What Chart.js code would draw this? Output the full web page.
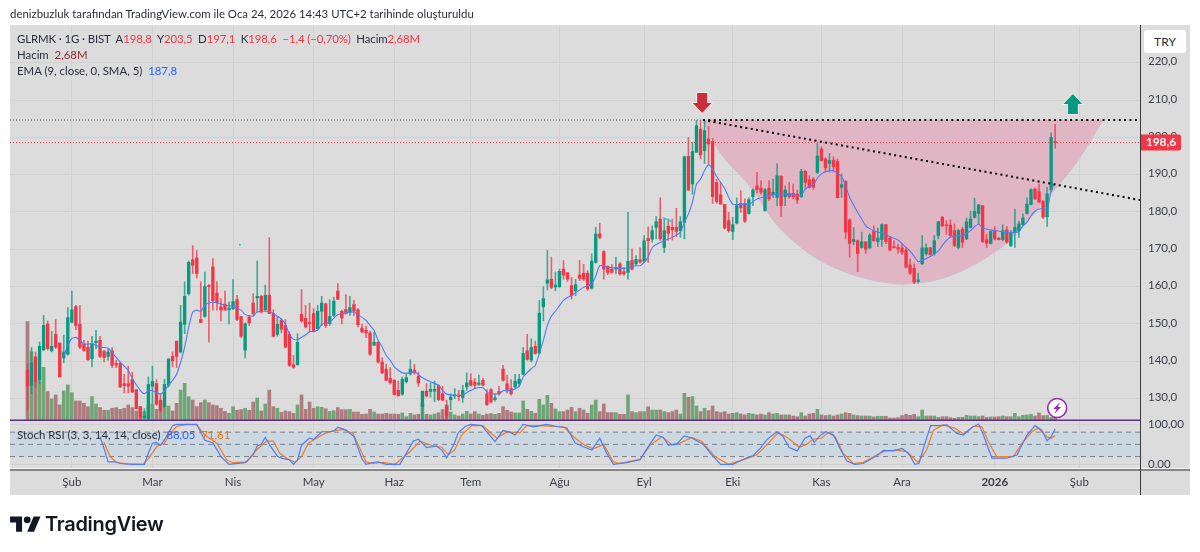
<!DOCTYPE html>
<html lang="tr">
<head>
<meta charset="utf-8">
<title>GLRMK</title>
<script src="https://cdn.jsdelivr.net/npm/chart.js@4/dist/chart.umd.js"></script>
<style>
    html, body { margin: 0; padding: 0; background: #fff; }
    body { width: 1200px; height: 552px; overflow: hidden; position: relative; font-family: Lato, sans-serif; color: #2a2e39; }
    #panel { position: absolute; left: 10px; top: 25px; width: 1180px; height: 470px; background: #dcdcdc; }
    canvas { position: absolute; left: 0; top: 0; }
    .txt { position: absolute; white-space: pre; font-size: 11.4px; line-height: 14px; }
    .red { color: #f23645; }
    .dark { color: #8e2b33; }
    .blue { color: #2962ff; }
    .orange { color: #ff6d00; }
    #cur { position: absolute; left: 1144px; top: 30px; width: 42px; height: 23px; line-height: 23px; background: #fff; border-radius: 3px; text-align: center; font-size: 12px; }
    #logo { position: absolute; left: 10px; top: 513px; }
    #logotxt { position: absolute; left: 45px; top: 511px; font: 600 20px/26px Inter, sans-serif; color: #131722; letter-spacing: -0.3px; }
</style>
</head>
<body>
<div id="panel"></div>
<canvas id="chart" width="1200" height="552"></canvas>
<div class="txt" style="left:10px;top:7px">denizbuzluk tarafından TradingView.com ile Oca 24, 2026 14:43 UTC+2 tarihinde oluşturuldu</div>
<div class="txt" style="left:17px;top:32px;letter-spacing:-0.1px">GLRMK · 1G · BIST  A<span class="red">198,8</span>  Y<span class="red">203,5</span>  D<span class="red">197,1</span>  K<span class="red">198,6</span>  <span class="red">−1,4 (−0,70%)</span>  Hacim<span class="red">2,68M</span></div>
<div class="txt" style="left:17px;top:48px">Hacim  <span class="dark">2,68M</span></div>
<div class="txt" style="left:17px;top:64px">EMA (9, close, 0, SMA, 5)  <span class="blue">187,8</span></div>
<div class="txt" style="left:17px;top:428px">Stoch RSI (3, 3, 14, 14, close)  <span class="blue">88,05</span>  <span class="orange">71,61</span></div>
<div id="cur">TRY</div>
<svg id="logo" width="31" height="24" viewBox="0 0 36 28" fill="#131722"><path d="M14 22H7V11H0V4h14v18zM28 22h-8l7.5-18h8L28 22z"/><circle cx="20" cy="8" r="4"/></svg>
<div id="logotxt">TradingView</div>

<script>
// candles, one value per trading day
const opens = [137.6,133.6,141.2,134.9,143.1,150,142.8,147.2,144.9,140.9,141.9,150.5,154.7,149.9,144.6,143.8,140.7,145,145.6,142.7,141.3,142.8,139.4,139.4,134,134,135.1,132.4,127.8,124.9,
    124.6,133.3,134,129.6,127.9,133.6,141.3,145.4,142.5,149.9,158.1,167.2,167.7,151.2,152,160.3,165.3,158.3,154.6,155.3,153.8,154.1,156.5,152,143,151.9,155.6,157,157.4,153.8,
    157.7,152.8,147.2,151,149.6,147.2,139.1,139.1,152.6,151.5,150.4,152.8,148.7,153.4,155.4,150.1,152.3,158.8,153.4,153.9,153.2,155.2,153.8,148.9,148.3,147.6,144.3,145.1,139.8,137.9,
    135.4,134.9,132.2,131.2,134.5,136.6,137.6,136,127.9,132,131.9,132,133.5,131.3,128,129.7,130.7,131,130.3,133.1,134.9,134.4,133.8,134.9,131.3,132.4,129.7,131.9,137.9,134,
    132.7,133.1,134,136.5,142.8,140.3,144,142.2,154.6,160.9,162,159.9,160,164.7,163.7,160.3,158.9,163.1,163.6,163.6,159.6,166.5,174.1,169.4,165.4,164.7,164.7,166.1,164,163.8,
    167,166.1,167.2,166.8,172.9,172.7,175.9,178.1,170.5,176.2,175.9,175.9,175,177.2,194.9,187.5,196,202.2,196.4,199.6,198.9,187.9,184.6,182,177.7,174.8,177,182.3,182.3,179.6,
    184.1,187,186.4,180.4,186.4,184.6,183.9,189.6,184.1,185,185,184.8,184.1,190.9,188.6,188.8,190.6,196.9,194.2,193,193.9,193.6,186.6,188.2,177.9,172.1,172.3,170.5,172,170.4,
    174.8,172.1,172.6,176.6,173,170.7,170.5,170.4,169.8,165.8,164.9,161.4,166.1,168.8,170.4,168.8,173.7,178.6,176.5,176.5,175,170.5,175.4,172.8,175.9,178.6,179.6,181.7,172.6,171.6,
    174.8,173,172.6,175.2,171,174.6,175,176.6,179.6,182,186.2,185.5,182.9,178.7,185.9,198.8];
const highs = [139.4,143.7,142.5,145.2,152.3,150.8,148,151.2,144.9,147,154.4,158.8,155,155,145.6,145.4,146.7,148.3,146.7,142.9,143.4,143.7,140.3,139.8,136.5,138.7,137.1,132.4,127.9,127.3,
    135.8,138.7,135.1,131.3,135.2,140.7,142.5,145.4,155,161.3,166.9,171,169.7,161.3,163.9,160.6,167.5,161.3,156.8,158.8,155.9,161.9,157.7,152,150.3,152.3,158.1,166.9,157.7,160.4,
    173.1,153.8,152,151.4,151.2,147.9,141.6,147.4,159.2,155,155.6,154.1,155,157.4,155.6,156.5,157.2,160.8,153.7,157.9,157.4,156.3,154.1,150,149.4,148.1,147.9,145.2,141,139.2,
    138.3,135.1,134.7,135.8,136.5,140.4,139.2,137.1,132,134,134.2,134.7,133.6,133.3,129.6,131.3,132.7,132.2,133.6,136.9,136.7,135.4,136.3,135.4,132.4,132.7,131.3,133.3,138.9,136.3,
    135.1,136.5,136.5,143.7,147.2,146,145.4,156.3,160,169.7,167.9,163.9,164.7,167,163.8,162.5,162,167,166,164.3,168.8,175.9,177,169.6,165.6,166,167.9,166.5,165.2,179.9,
    170.1,168.3,170.4,173.7,176,176.3,178.8,183.8,178.1,178.1,178.1,181,178.8,195,200,198.7,204.6,204.5,204.5,202.9,199.7,188.8,187.9,182.1,179.9,178.6,183.8,185.7,183.5,183.8,
    186.2,190.6,188.4,186.3,188.4,188.8,193,189.7,187,187.9,187.5,185.9,191.5,191.2,189.7,189.3,198.4,197.5,194.6,195.7,194.8,194.2,190.2,188.4,178.1,175.9,172.5,174.6,172.1,174.2,
    176.3,175.7,176.8,176.6,173.2,172.3,171.4,171.4,170.5,167.4,166.1,163.6,173.7,171.4,170.5,173.7,177.5,178.8,177.7,177.9,176.8,175.4,175.9,178.4,180.2,183.7,182,181.7,174.1,175,
    176.1,173.2,176.6,176.1,175,180.8,177.5,179.5,183.8,186.2,186.3,187.5,183,186.6,201.3,203.5];
const lows = [126.9,131.3,133.1,134,142.8,143,142.5,143.4,135.8,139.6,141.6,150.3,148.5,143.4,142.7,140.2,138.5,143.4,141,139.8,140.3,138.3,138.3,133,131.5,131.5,131.6,127.2,124.6,124.6,
    124.2,128.7,128.2,126.4,127.7,133.1,138.5,138.3,142.2,147.4,157.7,163.5,162.3,150.3,151.8,145.2,153.7,153.7,150.8,153.7,150,153.8,150.9,146.3,140.9,149.6,152.3,153.2,152.9,153.6,
    152.8,146.5,146.7,147.6,143.6,138.6,138.1,138.9,150.4,148.9,147.9,147.9,148.5,149.6,149,149.6,152,156.5,150,152.6,152.3,152.3,149.2,147.6,146.3,141.6,144.3,139.5,136.7,134.7,
    133.9,130.9,130.6,130.9,134.2,136.3,136.5,133.3,124.2,130.4,130.4,129.2,129.5,129.4,124.6,127,130,129.4,129,132.2,133.3,132.7,133.5,133.4,128.2,128.8,129.3,130.9,134.7,131.5,
    130.9,132.9,133.1,136.5,140.3,139.8,141.9,141.9,150.8,159.1,159.4,158.9,159.8,162,161.4,156.7,157.6,161.6,161.6,159,159.3,166.3,172.8,162,163.2,163.6,163.4,163.1,163,162,
    164.5,165.7,166.3,166.5,166.5,171.9,172.8,172.4,169.1,172.4,172.5,173.4,173.2,172.8,185.7,184.8,196,194.2,193,192.9,182.3,182.3,182.1,175.4,174.6,172.6,176.8,179.9,177.2,179.4,
    181.7,185.2,184.8,180.2,183.1,183.9,181.7,178.8,181.7,183.7,183.5,182.3,183.9,186.1,186.4,186.1,190.3,193.6,190.7,190.7,190.7,183.8,183.9,172.8,167.9,171.2,164,170.3,168.9,170.1,
    172.1,170.8,170.8,171.5,169.6,170.4,168.9,168.6,165,163.3,160.8,160.9,165.9,168.4,168.4,168.4,172.8,176,174,173.2,170.7,170.1,170.5,172.6,175.7,178.4,176.8,171.8,170.5,171.4,
    172.5,172.5,172.3,171.6,170.7,170.5,173.2,176.4,179.4,181.9,183.3,182.6,178.2,176.1,185.5,197.1];
const closes = [133.4,139.6,134.5,144,149.6,143.4,144,143.8,135.8,142.5,151.7,153.8,149.6,143.8,142.9,140.4,144.7,145.4,141.3,141,142.5,138.9,139,133.1,133.5,133.3,131.8,127.3,125.1,125.3,
    133.8,134.6,128.5,126.9,133.8,140.6,140.1,141.3,150.5,157.4,166.5,165.7,163.5,150.4,160,160,156.2,155.7,153.7,153.7,154.3,156,151.2,146.7,150.1,150.3,152.8,157.4,153.2,157.7,
    152.8,146.7,149.9,148.6,143.8,138.9,138.4,145.1,150.8,149.2,150.1,147.9,153.4,155.6,149.6,152,156.1,156.6,151.6,152.8,154.4,153.5,149.8,147.9,147.6,141.9,145.1,139.8,136.9,134.9,
    134.3,131.1,130.8,135.2,135.6,137.9,136.9,134.2,132,130.7,132.5,132.5,129.7,129.6,125.3,130.4,131,130.6,132.2,134.2,133.6,133.6,134.2,133.6,128.4,129.1,130.2,131.3,134.9,132.2,
    131.3,134.7,135.2,142.1,140.5,143.7,142.1,152.9,156.8,161.8,159.8,160.4,164.1,163.1,162,157.6,160.5,162.2,162,159.4,166.8,174.1,173.2,164.7,163.8,163.8,165.2,163.4,163.4,166.8,
    164.7,167.3,166.6,172.3,172.3,175,177.4,172.8,175,174.3,175.2,174.8,177.4,194.8,185.9,196.2,203.1,195.3,201.8,198.2,184.1,182.8,182.1,175.7,175,176.6,181.7,181.1,177.5,183.3,
    185.9,186,185.3,186,183.5,185.3,189.7,181.7,185.9,184.1,184.1,183.2,190.9,187.9,186.6,186.6,195,193.8,191.8,193.8,192.1,183.8,187.3,174.6,171.6,172.6,168.9,172,170,173.8,
    172.3,173,176.6,172.1,169.8,170.4,170.1,169.2,165.2,163.6,161.2,161.8,170.4,170.4,168.6,172.3,177.4,176.3,176.3,173.7,171,175,171.9,177.4,178.1,180.2,181.9,172.1,171.6,174.8,
    172.8,172.6,175,171.9,174.6,175.9,176.8,178.4,182.1,186,183.5,182.6,178.6,184.8,200,198.6];

// volume in millions
const volumes = [73.8,51.3,30,28.8,39.5,21.3,15.8,18.8,11.3,21.8,26.3,20.5,14.3,14.3,12.5,10,17.5,12,9.3,7.3,7.3,8.8,9.3,8,8.8,11.3,9.3,6.8,10,6.3,
    11.3,12,8,13.8,10.5,10.5,6.8,12.5,22.5,27.5,17.5,15,10,13,15,13,11.3,10.8,8.8,6.5,5,10,7.3,7.8,8.8,7.3,13.5,16.5,6.8,12,
    22.5,10,8.8,5.8,6.8,6.3,5,11.3,18.8,8,13.5,8.8,10,9.5,8.5,6.5,7,9.3,7.8,7.8,8,6,6,4.3,4.5,8,6,4.5,4.5,5,
    4.5,4.5,4.3,5.3,2.5,5,3.8,4.3,12.5,4.3,3.8,4.5,5.5,7.8,11.3,6,3.8,3,4.5,6.5,4.5,6.3,4.5,3.5,4.5,4.8,4.3,5,10,7.3,
    6,5.3,5.3,14.3,8,6.5,5,15.5,11.3,18.5,12.5,8.3,6.3,6.3,7.5,9.5,6.3,8.8,7.5,5,11.3,15,6.3,12,5.5,5.5,5.5,4.3,4.3,18.8,
    6.3,5.5,6.3,6.3,10,7.5,7.5,7.5,6.3,5.5,6.3,7.5,4.5,20,17,17.5,10.5,6.3,8.8,7,10.5,6.3,5.5,6.3,4.5,5,5.5,4.5,3.8,5,
    4.5,3.8,4.5,3.8,5.5,4.5,5,3.8,3.8,3.8,3,2.5,5.5,3,4.5,5,8,3.8,3.3,3.8,3,3.8,4.5,5.5,5,3.8,3.3,3,3,3,
    2.3,2.8,2.8,2.8,1.5,1.5,1.8,3.3,4.3,3.5,4.3,2.5,7.5,3,3,3,2,2.5,2.5,1.8,1.3,2,2,3.5,3,3,2.5,3,2,2.3,
    2.3,2.5,3,2.5,2.5,5,2.5,3.5,3.8,4.3,3,5.3,3.3,3.5,2,2.68];

// EMA at these bar numbers
const emaBars = [9,10,11,12,13,14,16,18,20,21,23,25,26,28,29,30,31,32,33,34,35,36,37,38,39,40,41,42,43,44,45,47,49,51,53,54,56,57,60,61,63,64,65,66,67,69,70,72,73,75,77,79,81,82,84,85,86,87,88,89,90,91,92,93,95,96,97,98,100,102,103,104,106,108,109,111,113,114,115,117,118,120,122,123,125,126,127,128,129,130,131,132,133,134,135,138,140,141,142,144,147,149,151,152,153,154,155,156,158,160,162,163,164,165,166,167,168,169,170,171,172,173,174,175,176,178,179,181,183,185,188,190,192,193,195,196,197,198,200,201,202,203,204,206,207,208,210,212,214,216,218,219,220,221,222,224,226,227,228,229,231,232,233,234,235,236,237,239,242,244,245,246,247,248,249,250,251,252,253,254,255];
const emaVals = [141.3,144.3,146.1,146.4,145.6,144.6,144.7,143.8,143.5,142.3,139.8,137.6,135.4,132.2,131.3,132.1,132.1,131.6,131.2,132.1,133.6,134.9,136.5,139.8,143.8,149.2,153.2,153.7,153.4,155,155.7,155.7,155,154.7,153.7,152.5,152.1,153.2,153.4,152.8,151.3,149.9,147.2,145.9,145.8,147.1,147.9,148.3,149.9,150.5,152.5,153,153.2,152.5,151,149.6,148.3,145.6,143.8,141.6,140.3,138.5,137.6,136.9,136.9,137.3,136.4,135.6,134.5,133.6,132.2,131.2,130.9,130.9,131.6,132.7,132.9,131.8,131.3,131.3,132.1,132.2,133.3,135.8,138,138.9,142.1,145.6,149.6,152.1,153.4,154.9,156.3,157.1,157.6,159.8,160.7,162.8,165.6,165.2,164.9,165,165.6,165.6,166.5,167.9,170.5,171.3,172.3,173.2,174.6,177.2,179.5,182.6,187.5,188.8,191.1,192.7,191.5,189.5,187.9,186.3,183.9,182.1,182,182.1,182,183.5,184.1,184.6,184.8,184.6,184.4,186.2,187.3,189.1,190.2,190.8,191.1,190.4,189.5,187.1,183.9,179.9,178.1,176.3,175,174.3,173.4,172.5,170.5,169.5,168.1,166.7,167.1,168.1,169.6,171,172.3,173.2,173.7,173.5,174.3,175,176.1,176.8,175.7,175.2,174.7,174.3,174.6,174.7,176.3,177.2,179,180.2,180.8,180.8,180.4,185.7,187.8];

const kBars = [18,19,20,22,23,26,29,30,31,32,33,34,36,37,40,42,44,45,46,48,50,51,54,56,57,58,59,60,62,63,65,66,67,68,70,71,73,75,76,77,79,81,83,84,86,87,89,92.4,94,95.7,97,99,101.5,102.8,104,105.7,106.9,108.6,110,112.7,114.3,116,118,119.7,121,123,125.5,128.8,131.3,133.8,135.9,138,140,142,143.7,145.4,148.7,152,154,156,157.8,159,161,163,165,167.7,169.8,172,175,178.5,180,181.8,183.4,185.9,187.5,189,191,192.9,194.2,195.2,196.6,198.1,200,201.6,203.3,205.3,207.4,210.7,212.4,214.8,217,218.6,220.2,221.2,222.7,224.1,226.4,228.1,230.6,232.2,234.3,236,237.2,239.3,243,245.5,248,250,251.7,253,254,255];
const kVals = [69,40,7,7,3,1,1,28,53,55,48,61,96,99,99,99,60,57,54,20,1,2,5,24,46,50,67,50,21,16,12,1,12,48,66,62,81,81,83,92,85,69,14,1,6,7,1,1,28,58,63,42,46,36,17,48,79,94,99,96,77,57,84,80,73,99,93,99,94,91,53,44,36,65,28,1,5,12,44,73,67,48,50,71,65,50,24,1,1,17,22,40,61,81,69,42,34,65,71,55,71,81,73,40,9,1,3,22,35,34,40,28,1,3,53,96,96,98,77,73,91,100,73,16,16,24,73,96,85,59,69,88.05];
const dBars = [19,20.5,22,24.6,28.7,30.4,32,34,35.4,37,39.5,42,44,47,49.4,51,54.4,56.4,59.3,61,62.6,64.3,66.4,68,69.7,71.7,73.8,75.9,78.4,80.8,82.5,84,85.8,88.3,91.2,94.9,97.4,100.7,102.8,104.4,106,107.7,110.2,113,116.4,118.9,122.2,123.9,127.2,133,135.9,138.3,140.4,142.9,145.4,147,152,154.5,157.4,159.8,161.9,164.8,167.3,170.6,173.9,177.6,180.9,183.4,186.3,188.8,191.5,193.3,195,197,198.7,200.4,202.4,204.9,207.4,210.7,212.8,215.6,218.2,221,223.1,224.8,227.2,230.1,232.2,234.7,236.8,238.4,240.5,244.6,246.8,249.2,250.8,252.9,254.1,255];
const dVals = [55,20,6,2,1,20,44,53,77,94,99,98,73,53,12,5,7,32,58,58,28,16,6,20,53,65,77,83,87,77,40,7,3,6,1,32,58,46,43,25,36,73,96,96,65,80,79,96,96,93,65,48,39,50,7,3,14,48,69,50,53,67,57,20,1,12,24,48,79,65,43,50,63,65,79,69,28,3,6,24,34,36,32,6,36,85,98,90,76,94,94,57,20,20,53,81,90,69,65,71.61];

// drawings on the chart
const cupBars = [167.6,170.6,180,185,189.2,194.2,197.9,202.4,206.6,210.8,217.2,227.2,235.6,243.8,252,260.4,266.9];
const cupVals = [204.64,197.9,185.9,177.8,173,168.7,166.3,164.1,162.6,161.5,160.7,162.3,166.3,172.5,182.4,193.4,204.64];
const topLevel = 204.64;
const trendBars = [167.6,276.05];
const trendVals = [204.64,183.2];
const lastClose = 198.6;
const bandLevels = [80,50,20];
const arrowBars = [167.4,259.4];
const arrowTips = [206.5,211.6];
const arrowKinds = ['down','up'];
const boltBar = 255.5;
const boltVolume = 9;
const cyanBars = [157.7,160.2];
const cyanVals = [178.5,177.3];
const dotBars = [52.7];
const dotVals = [171.2];

// axis
const monthBars = [11,31,51,71,91,110,132,153,175,197,217,240,261];
const monthNames = ['Şub','Mar','Nis','May','Haz','Tem','Ağu','Eyl','Eki','Kas','Ara','2026','Şub'];
const priceTicks = [130,140,150,160,170,180,190,200,210,220];
const stochTicks = [0,100];

const xMin = -4.342;
const xMax = 276.05;
const bull = '#089981';
const bear = '#f23645';
const gridColor = '#d1d1d1';
const tickColor = '#3b3e48';
const tickFont = { family: 'Lato, sans-serif', size: 11.5 };

function toPoints(xs, ys) {
    return xs.map((x, i) => ({ x: x, y: ys[i] }));
}

function flatLine(level, from) {
    return [{ x: from, y: level }, { x: xMax, y: level }];
}

const candleColors = closes.map((c, i) => (c >= opens[i] ? bull : bear));
const wickColors = closes.map((c, i) => (c >= opens[i] ? 'rgba(8,153,129,0.75)' : 'rgba(242,54,69,0.75)'));
const volumeColors = closes.map((c, i) => (c >= opens[i] ? '#6fa676' : '#ad7c7e'));

const datasets = [];

// cup shape
datasets.push({
    type: 'line', data: toPoints(cupBars, cupVals), yAxisID: 'y', order: 50,
    borderColor: '#cdbdd0', borderWidth: 1, pointRadius: 0, cubicInterpolationMode: 'monotone',
    fill: { value: topLevel }, backgroundColor: '#e0b5c4'
});

// Stoch band and its dashed levels
datasets.push({
    type: 'line', data: flatLine(bandLevels[0], xMin), yAxisID: 'stoch', order: 49,
    borderColor: '#7d8089', borderWidth: 1, borderDash: [5, 4], pointRadius: 0,
    fill: { value: bandLevels[2] }, backgroundColor: '#cbd8e2'
});
bandLevels.slice(1).forEach(level => {
    datasets.push({
        type: 'line', data: flatLine(level, xMin), yAxisID: 'stoch', order: 48,
        borderColor: '#7d8089', borderWidth: 1, borderDash: [5, 4], pointRadius: 0
    });
});

// volume
datasets.push({
    type: 'bar', data: toPoints(volumes.map((v, i) => i), volumes), yAxisID: 'vol', order: 40,
    backgroundColor: volumeColors, barThickness: 3, grouped: false
});

// wicks and bodies
datasets.push({
    type: 'bar', data: highs.map((h, i) => ({ x: i, y: [lows[i], h] })), yAxisID: 'y', order: 30,
    backgroundColor: wickColors, barThickness: 1, grouped: false
});
datasets.push({
    type: 'bar', data: opens.map((o, i) => ({ x: i, y: [o, closes[i]] })), yAxisID: 'y', order: 29,
    backgroundColor: candleColors, barThickness: 2.7, minBarLength: 1, grouped: false
});

// EMA
datasets.push({
    type: 'line', data: toPoints(emaBars, emaVals), yAxisID: 'y', order: 20,
    borderColor: '#4f7cf7', borderWidth: 1.1, pointRadius: 0, tension: 0.2
});

// levels and trend line
datasets.push({
    type: 'line', data: [{ x: xMin, y: topLevel }, { x: 167.6, y: topLevel }], yAxisID: 'y', order: 12,
    borderColor: '#55575e', borderWidth: 1, borderDash: [1, 2], pointRadius: 0
});
datasets.push({
    type: 'line', data: flatLine(lastClose, xMin), yAxisID: 'y', order: 11,
    borderColor: bear, borderWidth: 1, borderDash: [1, 2], pointRadius: 0
});
datasets.push({
    type: 'line', data: flatLine(topLevel, 167.6), yAxisID: 'y', order: 10,
    borderColor: '#000', borderWidth: 2, borderDash: [2, 3.4], pointRadius: 0
});
datasets.push({
    type: 'line', data: toPoints(trendBars, trendVals), yAxisID: 'y', order: 10,
    borderColor: '#000', borderWidth: 2, borderDash: [2, 3.4], pointRadius: 0
});
datasets.push({
    type: 'line', data: toPoints(cyanBars, cyanVals), yAxisID: 'y', order: 9,
    borderColor: '#26c6da', borderWidth: 1.5, pointRadius: 0
});
datasets.push({
    type: 'line', data: toPoints(dotBars, dotVals), yAxisID: 'y', order: 9, showLine: false,
    backgroundColor: '#26c6da', pointRadius: 1, pointBorderWidth: 0
});

// Stoch RSI
datasets.push({
    type: 'line', data: toPoints(dBars, dVals), yAxisID: 'stoch', order: 6,
    borderColor: '#f57c1f', borderWidth: 1.2, pointRadius: 0
});
datasets.push({
    type: 'line', data: toPoints(kBars, kVals), yAxisID: 'stoch', order: 5,
    borderColor: '#4f7cf7', borderWidth: 1.2, pointRadius: 0
});

// things that are not series: pane lines, arrows, price badge, bolt icon
const overlayPlugin = {
    id: 'overlay',
    afterDatasetsDraw(chart) {
        const ctx = chart.ctx;
        const area = chart.chartArea;
        const xs = chart.scales.x;
        const ys = chart.scales.y;
        const vs = chart.scales.vol;

        // pane separator under volume
        const paneY = vs.getPixelForValue(0);
        ctx.fillStyle = '#5c2d86';
        ctx.fillRect(area.left, paneY - 0.5, area.right - area.left, 1.5);

        // separator above the time axis
        ctx.fillStyle = '#f2f2f2';
        ctx.fillRect(area.left, area.bottom - 2, 1180, 1);
        ctx.fillStyle = '#858585';
        ctx.fillRect(area.left, area.bottom - 1, 1180, 2);

        // price axis line
        ctx.fillStyle = '#3a3a3a';
        ctx.fillRect(area.right, area.top, 1, 470);

        // arrows
        arrowBars.forEach((bar, i) => {
            const x = xs.getPixelForValue(bar);
            const tip = ys.getPixelForValue(arrowTips[i]);
            const d = arrowKinds[i] === 'down' ? -1 : 1;
            ctx.beginPath();
            ctx.moveTo(x, tip);
            ctx.lineTo(x + 9.5, tip + d * 10);
            ctx.lineTo(x + 5, tip + d * 10);
            ctx.lineTo(x + 5, tip + d * 20);
            ctx.lineTo(x - 5, tip + d * 20);
            ctx.lineTo(x - 5, tip + d * 10);
            ctx.lineTo(x - 9.5, tip + d * 10);
            ctx.closePath();
            ctx.lineWidth = 1.5;
            ctx.strokeStyle = '#f4f4f4';
            ctx.stroke();
            ctx.fillStyle = arrowKinds[i] === 'down' ? '#cc2f3c' : bull;
            ctx.fill();
        });

        // bolt icon
        const bx = xs.getPixelForValue(boltBar);
        const by = vs.getPixelForValue(boltVolume);
        ctx.beginPath();
        ctx.arc(bx, by, 9.5, 0, Math.PI * 2);
        ctx.fillStyle = '#fff';
        ctx.fill();
        ctx.lineWidth = 1.6;
        ctx.strokeStyle = '#9c27b0';
        ctx.stroke();
        ctx.beginPath();
        ctx.moveTo(bx + 3, by - 6);
        ctx.lineTo(bx - 4, by + 1);
        ctx.lineTo(bx - 0.5, by + 1);
        ctx.lineTo(bx - 3, by + 6);
        ctx.lineTo(bx + 4, by - 1);
        ctx.lineTo(bx + 0.5, by - 1);
        ctx.closePath();
        ctx.fillStyle = '#9c27b0';
        ctx.fill();
    },
    afterDraw(chart) {
        // last price badge goes over the tick labels
        const ctx = chart.ctx;
        const y = chart.scales.y.getPixelForValue(lastClose);
        const x = chart.chartArea.right + 1;
        ctx.beginPath();
        ctx.roundRect(x, y - 8, 40, 16, [0, 2, 2, 0]);
        ctx.fillStyle = bear;
        ctx.fill();
        ctx.fillStyle = '#fff';
        ctx.font = 'bold 12px Lato, sans-serif';
        ctx.textAlign = 'center';
        ctx.textBaseline = 'middle';
        ctx.fillText(String(lastClose).replace('.', ','), x + 20, y);
    }
};

new Chart(document.getElementById('chart').getContext('2d'), {
    data: { datasets: datasets },
    plugins: [overlayPlugin],
    options: {
        responsive: false,
        animation: false,
        devicePixelRatio: 1,
        layout: { padding: { left: 10, top: 25, right: 10, bottom: 57 } },
        plugins: { legend: { display: false }, tooltip: { enabled: false } },
        scales: {
            x: {
                type: 'linear', min: xMin, max: xMax, offset: false,
                afterBuildTicks: axis => { axis.ticks = monthBars.map(v => ({ value: v })); },
                afterFit: axis => { axis.height = 25; },
                grid: { color: gridColor, drawTicks: false, offset: false },
                border: { display: false },
                ticks: {
                    autoSkip: false, maxRotation: 0, padding: 5, color: tickColor,
                    font: ctx => (ctx.tick && ctx.tick.value === 240 ? { ...tickFont, weight: 'bold' } : tickFont),
                    callback: v => monthNames[monthBars.indexOf(v)]
                }
            },
            // stoch axis sits nearest the plot with no width of its own, so its labels share the price strip
            stoch: {
                type: 'linear', position: 'right', weight: -1, min: -13, max: 1081,
                afterBuildTicks: axis => { axis.ticks = stochTicks.map(v => ({ value: v })); },
                afterFit: axis => { axis.width = 0; axis._computeLabelArea = () => undefined; },
                grid: { color: gridColor, drawTicks: false },
                border: { display: false },
                ticks: { color: tickColor, font: tickFont, padding: 8, callback: v => v.toFixed(2).replace('.', ',') }
            },
            y: {
                type: 'linear', position: 'right', weight: 0, min: 110.87, max: 230.1,
                afterBuildTicks: axis => { axis.ticks = priceTicks.map(v => ({ value: v })); },
                afterFit: axis => { axis.width = 50; },
                grid: { color: gridColor, drawTicks: false },
                border: { display: false },
                ticks: { color: tickColor, font: tickFont, padding: 8, labelOffset: -1, callback: v => v.toFixed(1).replace('.', ',') }
            },
            vol: {
                type: 'linear', display: false, min: -37.5, max: 296.25
            }
        }
    }
});
</script>
</body>
</html>
